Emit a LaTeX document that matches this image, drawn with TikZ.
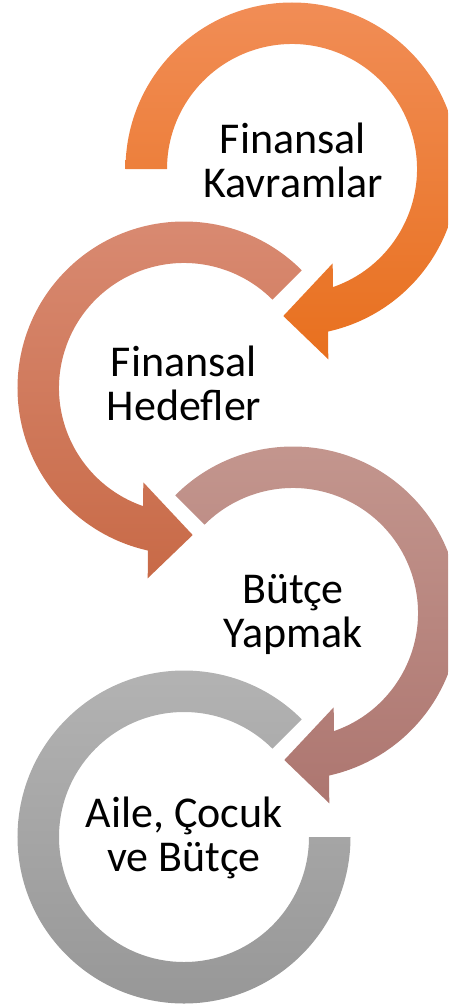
\documentclass[tikz,border=0pt]{standalone}
\usepackage{fontspec}
\setmainfont{Carlito}
\definecolor{oTop}{HTML}{F18D56}
\definecolor{oBot}{HTML}{E8701E}
\definecolor{sTop}{HTML}{D98B73}
\definecolor{sBot}{HTML}{C86A47}
\definecolor{rTop}{HTML}{C4978F}
\definecolor{rBot}{HTML}{AD7670}
\definecolor{gTop}{HTML}{B4B4B4}
\definecolor{gBot}{HTML}{969696}
\begin{document}
\begin{tikzpicture}[x=1pt,y=1pt,
  lbl/.style={align=center, anchor=base, inner sep=0pt,
    font=\fontsize{44}{44}\selectfont, text=black},
  ringA/.style={top color=oTop, bottom color=oBot},
  ringB/.style={top color=sTop, bottom color=sBot},
  ringC/.style={top color=rTop, bottom color=rBot},
  ringD/.style={top color=gTop, bottom color=gBot}]
\useasboundingbox (0,0) rectangle (448,-1006);
\clip (0,0) rectangle (448,-1006);
% circle 1 : Finansal Kavramlar
\begin{scope}[shift={(292,-169)}]
  \shade[ringA] (180:166.5pt) arc[start angle=180, end angle=-77.5, radius=166.5pt]
    -- (36.3pt,-190.3pt) -- (-8.7pt,-147pt) -- (40.7pt,-94.3pt)
    -- (-70.9:125pt) arc[start angle=-70.9, end angle=180, radius=125pt] -- cycle;
\end{scope}
% circle 2 : Finansal Hedefler (mirrored)
\begin{scope}[shift={(184,-388)}, xscale=-1]
  \shade[ringB] (135:166.5pt) arc[start angle=135, end angle=-77.5, radius=166.5pt]
    -- (36.3pt,-190.3pt) -- (-8.7pt,-147pt) -- (40.7pt,-94.3pt)
    -- (-70.9:125pt) arc[start angle=-70.9, end angle=135, radius=125pt] -- cycle;
\end{scope}
% circle 3 : Butce Yapmak
\begin{scope}[shift={(293,-613)}]
  \shade[ringC] (135:166.5pt) arc[start angle=135, end angle=-77.5, radius=166.5pt]
    -- (36.3pt,-190.3pt) -- (-8.7pt,-147pt) -- (40.7pt,-94.3pt)
    -- (-70.9:125pt) arc[start angle=-70.9, end angle=135, radius=125pt] -- cycle;
\end{scope}
% circle 4 : Aile, Cocuk ve Butce (mirrored, no head)
\begin{scope}[shift={(184,-837)}, xscale=-1]
  \shade[ringD] (135:166.5pt) arc[start angle=135, end angle=-180, radius=166.5pt]
    -- (-180:125pt) arc[start angle=-180, end angle=135, radius=125pt] -- cycle;
\end{scope}
\node[lbl] (t1) at (293,-197.3) {Finansal\\Kavramlar};
\node[lbl] (t2) at (184,-420.7) {Finansal\\Hedefler};
\node[lbl] (t3) at (293,-647.3) {Bütçe\\Yapmak};
\node[lbl] (t4) at (184,-871.7) {Aile, Çocuk\\ve Bütçe};
\end{tikzpicture}
\end{document}
